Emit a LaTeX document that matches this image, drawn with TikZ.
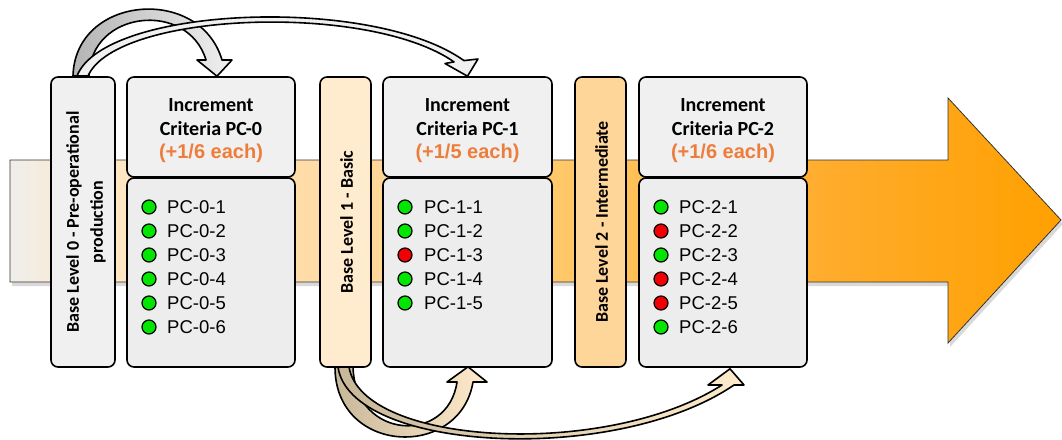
\documentclass[tikz,border=0pt]{standalone}
\usepackage{fontspec}
\setmainfont{Liberation Sans}
\newfontfamily\carlito{Carlito}
\usetikzlibrary{calc}
\definecolor{aS0}{HTML}{F0EEEA}
\definecolor{aS1}{HTML}{FFE7C3}
\definecolor{aS2}{HTML}{FFDAA2}
\definecolor{aS3}{HTML}{FFC766}
\definecolor{aS4}{HTML}{FFAC2C}
\definecolor{aS5}{HTML}{FFA000}
\definecolor{boxgray}{HTML}{F0F0F0}
\definecolor{bodygray}{HTML}{EDEDED}
\definecolor{peach}{HTML}{FFEBCD}
\definecolor{apricot}{HTML}{FFD699}
\definecolor{hdrorange}{HTML}{EE7D3B}
\definecolor{dotgreen}{HTML}{00E600}
\definecolor{dotred}{HTML}{F00000}
\definecolor{topdark}{HTML}{B4B4B4}
\definecolor{toplight}{HTML}{F0F0F0}
\definecolor{tan}{HTML}{C8B89A}
\definecolor{cream}{HTML}{FFEBCC}
\pgfdeclarehorizontalshading{bigarrowshade}{100bp}{color(0bp)=(aS0); color(25bp)=(aS0); color(30.2bp)=(aS1); color(40.7bp)=(aS2); color(51.6bp)=(aS3); color(64bp)=(aS4); color(75bp)=(aS5); color(100bp)=(aS5)}
\tikzset{
  box/.style={draw=black, line width=1.6pt, rounded corners=7pt, inner sep=0pt},
  vlabel/.style={rotate=90, align=center, inner sep=0pt, font=\carlito\bfseries\fontsize{18}{24}\selectfont},
  hdrtext/.style={align=center, inner sep=0pt, font=\carlito\bfseries\fontsize{20}{23.5}\selectfont},
  dot/.style={circle, draw=black, line width=1.2pt, minimum size=14pt, inner sep=0pt},
  item/.style={anchor=west, inner sep=0pt, font=\fontsize{18.5}{22}\selectfont},
  blk/.style={draw=black, line width=1.6pt, line join=round},
  bigarrow/.style={draw=black!80, line width=0.8pt, shading=bigarrowshade}
}
\begin{document}
\begin{tikzpicture}[x=1pt,y=-1pt]
\useasboundingbox (0,0) rectangle (1062,439);
% big background arrow
\begin{scope}[shift={(2,4)}]
\fill[black, opacity=0.15] (10,160) -- (948,160) -- (948,98) -- (1061,220) -- (948,343) -- (948,282) -- (10,282) -- cycle;
\end{scope}
\path[bigarrow] (10,160) -- (948,160) -- (948,98) -- (1061,220) -- (948,343) -- (948,282) -- (10,282) -- cycle;

% base level boxes
\node[box, fill=boxgray, minimum width=64pt, minimum height=290pt] (base0) at (83,222) {};
\node[vlabel] (lab0) at ($(base0.center)+(3,0)$) {Base Level 0 - Pre-operational\\production};
\node[box, fill=peach, minimum width=51pt, minimum height=290pt] (base1) at (345.5,222) {};
\node[vlabel] (lab1) at ($(base1.center)+(1,0)$) {Base Level 1 - Basic};
\node[box, fill=apricot, minimum width=51pt, minimum height=290pt] (base2) at (600.5,222) {};
\node[vlabel] (lab2) at ($(base2.center)+(1,0)$) {Base Level 2 - Intermediate};

% headers
\node[box, fill=boxgray, minimum width=168pt, minimum height=100pt] (hdr0) at (211,127) {};
\node[box, fill=boxgray, minimum width=169pt, minimum height=100pt] (hdr1) at (467.5,127) {};
\node[box, fill=boxgray, minimum width=168pt, minimum height=100pt] (hdr2) at (723,127) {};
\node[hdrtext] (h0) at ($(hdr0.center)+(0,4)$)
  {Increment\\Criteria PC-0\\\textcolor{hdrorange}{\fontspec{Liberation Sans}\bfseries (+1/6 each)}};
\node[hdrtext] (h1) at ($(hdr1.center)+(0,4)$)
  {Increment\\Criteria PC-1\\\textcolor{hdrorange}{\fontspec{Liberation Sans}\bfseries (+1/5 each)}};
\node[hdrtext] (h2) at ($(hdr2.center)+(0,4)$)
  {Increment\\Criteria PC-2\\\textcolor{hdrorange}{\fontspec{Liberation Sans}\bfseries (+1/6 each)}};

% bodies
\node[box, fill=bodygray, minimum width=168pt, minimum height=189pt] (body0) at (211,272.5) {};
\node[box, fill=bodygray, minimum width=169pt, minimum height=189pt] (body1) at (467.5,272.5) {};
\node[box, fill=bodygray, minimum width=168pt, minimum height=189pt] (body2) at (723,272.5) {};

% items
\foreach \col [count=\i] in {dotgreen,dotgreen,dotgreen,dotgreen,dotgreen,dotgreen}{
  \node[dot, fill=\col] (d0-\i) at (149,{207+24*(\i-1)}) {};
  \node[item] (t0-\i) at ($(d0-\i.center)+(18,0)$) {PC-0-\i};
}
\foreach \col [count=\i] in {dotgreen,dotgreen,dotred,dotgreen,dotgreen}{
  \node[dot, fill=\col] (d1-\i) at (405,{207+24*(\i-1)}) {};
  \node[item] (t1-\i) at ($(d1-\i.center)+(19,0)$) {PC-1-\i};
}
\foreach \col [count=\i] in {dotgreen,dotred,dotgreen,dotred,dotred,dotgreen}{
  \node[dot, fill=\col] (d2-\i) at (661,{207+24*(\i-1)}) {};
  \node[item] (t2-\i) at ($(d2-\i.center)+(18,0)$) {PC-2-\i};
}

% top curved arrows
\coordinate (tipA) at ($(hdr0.north)+(6,0)$);
\coordinate (tipB) at (hdr1.north);
\draw[blk, left color=topdark, right color=toplight]
  (73,76) .. controls (75,-5) and (200,-15) .. (222,60) -- (232,60) -- (tipA) -- (197,60) -- (206,60)
  .. controls (188,0) and (90,10) .. (89,76) -- cycle;
\draw[blk, fill=toplight]
  (77,76) .. controls (104,6) and (372,-5) .. (464,60.6) -- (478,59) -- (tipB) -- (445,63.5) -- (454,61.9)
  .. controls (368,2) and (116,12) .. (88,76) -- cycle;

% bottom curved arrows
\coordinate (tipC) at ($(body1.south)+(0.5,-1)$);
\coordinate (tipD) at ($(body2.south)+(7,1)$);
\draw[blk, left color=tan, right color=cream]
  (335,367) .. controls (335,455) and (460,460) .. (473,382) -- (487,382) -- (tipC) -- (447,382) -- (457,382)
  .. controls (448,445) and (355,440) .. (353,367) -- cycle;
\draw[blk, left color=tan, right color=cream]
  (338,367) .. controls (350,452) and (615,466) .. (734,385) -- (744,385) -- (tipD) -- (708,385) -- (722,385)
  .. controls (606,459) and (362,446) .. (349,367) -- cycle;
\end{tikzpicture}
\end{document}
